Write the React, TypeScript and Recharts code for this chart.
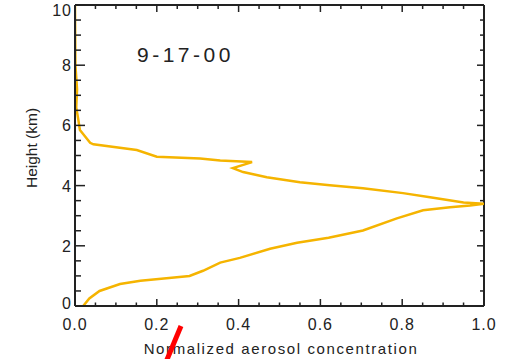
import React from 'react';
import { LineChart, Line, XAxis, YAxis, ReferenceLine } from 'recharts';

// Aerosol profile, 9-17-00: height (km) against normalized concentration
const HEIGHT_KM = [
  0.0, 0.25, 0.5, 0.73, 0.84, 0.93, 1.0, 1.17, 1.44, 1.6, 1.9, 2.1, 2.27, 2.51, 2.91, 3.18, 3.28, 3.34,
  3.4, 3.44, 3.61, 3.75, 3.91, 4.01, 4.11, 4.28, 4.45, 4.58, 4.78, 4.83, 4.9, 4.96, 5.18, 5.37, 5.42,
  5.85, 6.2, 6.6, 7.2, 8.0, 10.0,
];
const CONCENTRATION = [
  0.02, 0.035, 0.06, 0.11, 0.16, 0.23, 0.28, 0.313, 0.355, 0.403, 0.477, 0.543, 0.62, 0.704, 0.787, 0.851,
  0.917, 0.966, 1.0, 0.95, 0.868, 0.802, 0.704, 0.623, 0.55, 0.469, 0.411, 0.386, 0.433, 0.355, 0.306, 0.2,
  0.151, 0.045, 0.037, 0.012, 0.008, 0.003, 0.005, 0.001, 0.0,
];

const X_TICKS = [
  0, 0.05, 0.1, 0.15, 0.2, 0.25, 0.3, 0.35, 0.4, 0.45, 0.5, 0.55, 0.6, 0.65, 0.7, 0.75, 0.8, 0.85, 0.9, 0.95, 1.0,
];
const Y_TICKS = [0, 0.5, 1, 1.5, 2, 2.5, 3, 3.5, 4, 4.5, 5, 5.5, 6, 6.5, 7, 7.5, 8, 8.5, 9, 9.5, 10];

const data = HEIGHT_KM.map((h, i) => ({ h, c: CONCENTRATION[i] }));

const FONT = 'Liberation Sans, Arial, sans-serif';
const INK = '#222';

// plot box: the frame's right and top edges mirror the axis ticks
const PLOT_W = 409;
const PLOT_H = 301;

const isMajorX = (v: number) => Math.abs(v * 5 - Math.round(v * 5)) < 1e-6;
const isMajorY = (v: number) => Math.abs(v / 2 - Math.round(v / 2)) < 1e-6;

const BottomTick = ({ x, y, payload }: any) => {
  const major = isMajorX(payload.value);
  return (
    <g>
      <line x1={x} x2={x} y1={y} y2={y - (major ? 7 : 3.5)} stroke={INK} strokeWidth={1.5} />
      <line x1={x} x2={x} y1={y - PLOT_H} y2={y - PLOT_H + (major ? 7 : 4)} stroke={INK} strokeWidth={1.5} />
      {major && (
        <text x={x} y={y + 24} textAnchor="middle" fontSize={16} fontFamily={FONT} letterSpacing={1} fill={INK}>
          {payload.value.toFixed(1)}
        </text>
      )}
    </g>
  );
};

const LeftTick = ({ x, y, payload }: any) => {
  const major = isMajorY(payload.value);
  const v = payload.value;
  const dy = v === 10 ? 11 : v === 0 ? 3 : 6;
  return (
    <g>
      <line x1={x} x2={x + (major ? 10 : 6)} y1={y} y2={y} stroke={INK} strokeWidth={1.5} />
      <line x1={x + PLOT_W} x2={x + PLOT_W - (major ? 7 : 4)} y1={y} y2={y} stroke={INK} strokeWidth={1.5} />
      {major && (
        <text x={x - 3} y={y + dy} textAnchor="end" fontSize={16} fontFamily={FONT} letterSpacing={1} fill={INK}>
          {v}
        </text>
      )}
    </g>
  );
};

const App = () => {
  return (
    <div style={{ position: 'absolute', left: 0, top: 0, width: 510, height: 359, background: '#fff' }}>
      <LineChart
        width={510}
        height={359}
        data={data}
        layout="vertical"
        margin={{ top: 5, right: 26, bottom: 0, left: 0 }}
      >
        <XAxis
          xAxisId="b"
          type="number"
          domain={[0, 1]}
          ticks={X_TICKS}
          interval={0}
          height={53}
          tickSize={0}
          tickMargin={0}
          tick={<BottomTick />}
          tickLine={false}
          axisLine={{ stroke: INK, strokeWidth: 2 }}
          allowDataOverflow
          label={{
            content: () => (
              <text x={281} y={354} textAnchor="middle" fontSize={15} fontFamily={FONT} letterSpacing={1.6} fill={INK}>
                Normalized aerosol concentration
              </text>
            ),
          }}
        />
        <YAxis
          yAxisId="l"
          type="number"
          dataKey="h"
          domain={[0, 10]}
          reversed
          ticks={Y_TICKS}
          interval={0}
          width={75}
          tickSize={0}
          tickMargin={0}
          tick={<LeftTick />}
          tickLine={false}
          axisLine={{ stroke: INK, strokeWidth: 2 }}
          allowDataOverflow
          label={{
            content: () => (
              <text
                x={37}
                y={148}
                transform="rotate(-90 37 148)"
                textAnchor="middle"
                fontSize={15.5}
                fontFamily={FONT}
                fill={INK}
              >
                Height (km)
              </text>
            ),
          }}
        />
        <ReferenceLine xAxisId="b" yAxisId="l" x={1} stroke={INK} strokeWidth={2} />
        <ReferenceLine xAxisId="b" yAxisId="l" y={10} stroke={INK} strokeWidth={2} />
        <Line
          xAxisId="b"
          yAxisId="l"
          dataKey="c"
          type="linear"
          stroke="#F5B400"
          strokeWidth={2.5}
          dot={false}
          isAnimationActive={false}
        />
      </LineChart>
      <svg width={510} height={359} style={{ position: 'absolute', left: 0, top: 0, pointerEvents: 'none' }}>
        <text x={137} y={62} fontSize={21} fontFamily={FONT} letterSpacing={3.5} fill={INK}>
          9-17-00
        </text>
        <line x1={166} y1={362} x2={181} y2={326} stroke="#FF0000" strokeWidth={5} />
      </svg>
    </div>
  );
};

export default App;
